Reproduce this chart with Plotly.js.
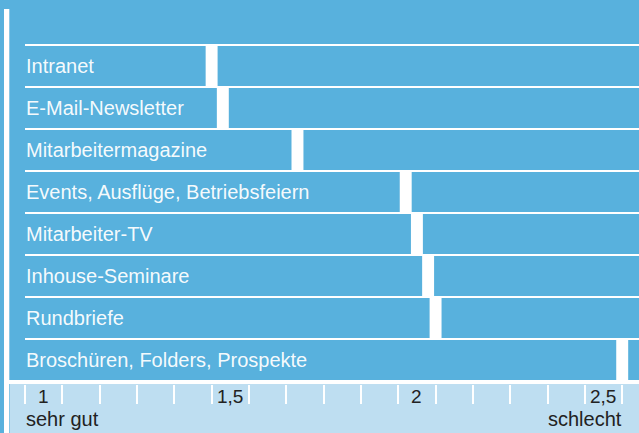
<!DOCTYPE html>
<html>
<head>
<meta charset="utf-8">
<script src="https://cdn.plot.ly/plotly-3.0.1.min.js"></script>
<style>html,body{margin:0;padding:0;background:#fff;}#chart{width:639px;height:433px;}</style>
</head>
<body>
<div id="chart"></div>
<script>
// ---- data ----
const categories = ["Intranet", "E-Mail-Newsletter", "Mitarbeitermagazine", "Events, Ausflüge, Betriebsfeiern", "Mitarbeiter-TV", "Inhouse-Seminare", "Rundbriefe", "Broschüren, Folders, Prospekte"];
const ratings = [1.50, 1.53, 1.73, 2.02, 2.05, 2.08, 2.10, 2.60];
const tickValues = [1, 1.5, 2, 2.5];
const tickLabels = ["1", "1,5", "2", "2,5"];
const scaleLabels = ["sehr gut", "schlecht"];
const scaleEnds = [1, 2.6];

// ---- style ----
const BLUE = "rgb(88,177,221)";
const LIGHT = "rgb(190,222,241)";
const FONT = "Liberation Sans, Arial, sans-serif";
const XMIN = 1, XMAX = 2.645, BAR_END = 3, GAP = 0.032;

const left = {
  type: "bar", orientation: "h", y: categories,
  base: categories.map(() => XMIN),
  x: ratings.map(v => v - GAP / 2 - XMIN),
  width: 0.952, marker: {color: BLUE, line: {width: 0}}, hoverinfo: "skip"
};
const right = {
  type: "bar", orientation: "h", y: categories,
  base: ratings.map(v => v + GAP / 2),
  x: ratings.map(v => BAR_END - v - GAP / 2),
  width: 0.952, marker: {color: BLUE, line: {width: 0}}, hoverinfo: "skip"
};

const annotations = categories.map(c => ({
  x: XMIN, y: c, xref: "x", yref: "y", text: c, showarrow: false,
  xanchor: "left", yanchor: "middle", xshift: -1, yshift: 0,
  font: {family: FONT, size: 20, color: "rgba(255,255,255,0.96)"}
}));
tickValues.forEach((v, i) => annotations.push({
  x: v, y: -0.038, xref: "x", yref: "paper", text: tickLabels[i], showarrow: false,
  xanchor: "center", yanchor: "middle", xshift: 18,
  font: {family: FONT, size: 19, color: "#222"}
}));
annotations.push({
  x: scaleEnds[0], y: -0.103, xref: "x", yref: "paper", text: scaleLabels[0], showarrow: false,
  xanchor: "left", yanchor: "middle", xshift: -1,
  font: {family: FONT, size: 20, color: "#222"}
});
annotations.push({
  x: scaleEnds[1], y: -0.103, xref: "x", yref: "paper", text: scaleLabels[1], showarrow: false,
  xanchor: "right", yanchor: "middle", xshift: 2,
  font: {family: FONT, size: 20, color: "#222"}
});

const layout = {
  width: 639, height: 433,
  margin: {l: 25, r: 0, t: 44, b: 49, pad: 0},
  paper_bgcolor: BLUE, plot_bgcolor: "#ffffff",
  showlegend: false, barmode: "overlay",
  xaxis: {
    range: [XMIN, XMAX], tickmode: "array", tickvals: tickValues, ticktext: tickLabels,
    showticklabels: false,
    ticks: "outside", ticklen: 19, tickwidth: 2, tickcolor: "#ffffff",
    minor: {tickmode: "linear", tick0: 1, dtick: 0.1, ticks: "outside", ticklen: 19, tickwidth: 2, tickcolor: "#ffffff", showgrid: false},
    showgrid: false, zeroline: false, showline: false, fixedrange: true
  },
  yaxis: {
    type: "category", range: [7.571, -0.524],
    showticklabels: false, ticks: "", showgrid: false, zeroline: false, showline: false, fixedrange: true
  },
  shapes: [
    {type: "rect", xref: "paper", yref: "paper", x0: -15 / 614, x1: 1, y0: 0, y1: -49 / 340, fillcolor: LIGHT, line: {width: 0}, layer: "below"},
    {type: "rect", xref: "paper", yref: "paper", x0: -21 / 614, x1: -15.7 / 614, y0: -49 / 340, y1: 1 + 35 / 340, fillcolor: "#ffffff", line: {width: 0}, layer: "below"},
    {type: "rect", xref: "paper", yref: "paper", x0: -21 / 614, x1: 0, y0: 0, y1: 4 / 340, fillcolor: "#ffffff", line: {width: 0}, layer: "below"}
  ],
  annotations: annotations
};

Plotly.newPlot("chart", [left, right], layout, {displayModeBar: false, staticPlot: true});
</script>
</body>
</html>
